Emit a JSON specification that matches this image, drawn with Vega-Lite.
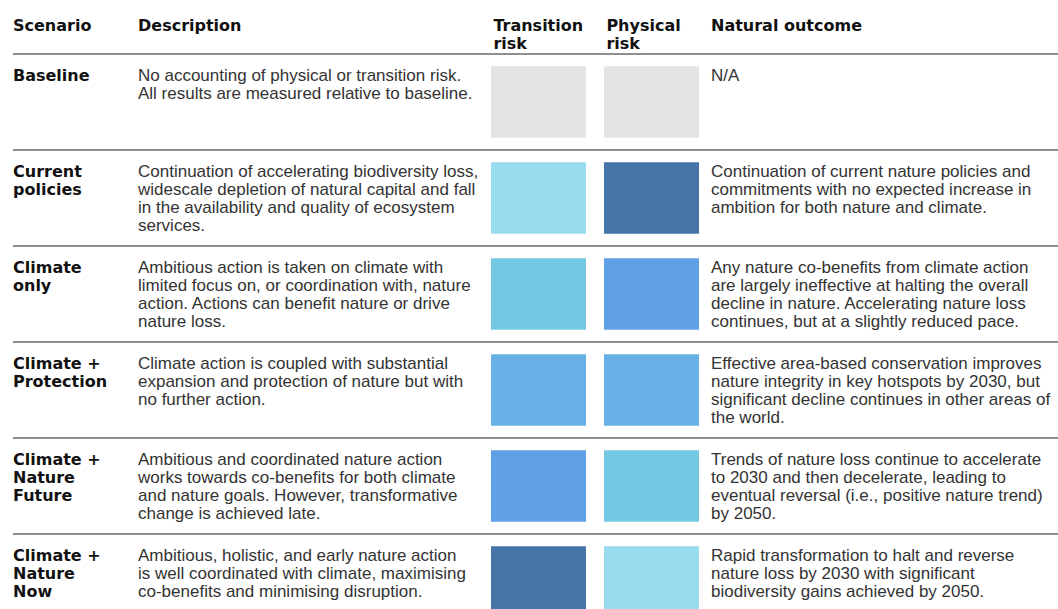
{
  "$schema": "https://vega.github.io/schema/vega-lite/v6.json",
  "background": "white",
  "padding": {"left": 12, "top": 0, "right": 0, "bottom": 0},
  "bounds": "flush",
  "spacing": 0,
  "config": {"view": {"stroke": null}, "concat": {"spacing": 0}},
  "datasets": {
    "headers": [
      {"scenario": "Header", "column": "Scenario", "text": "Scenario"},
      {"scenario": "Header", "column": "Description", "text": "Description"},
      {"scenario": "Header", "column": "Transition risk", "text": "Transition\nrisk"},
      {"scenario": "Header", "column": "Physical risk", "text": "Physical\nrisk"},
      {"scenario": "Header", "column": "Natural outcome", "text": "Natural outcome"}
    ],
    "scenarios": [
      {"scenario": "Baseline", "label": "Baseline", "description": "No accounting of physical or transition risk.\nAll results are measured relative to baseline.", "outcome": "N/A"},
      {"scenario": "Current policies", "label": "Current\npolicies", "description": "Continuation of accelerating biodiversity loss,\nwidescale depletion of natural capital and fall\nin the availability and quality of ecosystem\nservices.", "outcome": "Continuation of current nature policies and\ncommitments with no expected increase in\nambition for both nature and climate."},
      {"scenario": "Climate only", "label": "Climate\nonly", "description": "Ambitious action is taken on climate with\nlimited focus on, or coordination with, nature\naction. Actions can benefit nature or drive\nnature loss.", "outcome": "Any nature co-benefits from climate action\nare largely ineffective at halting the overall\ndecline in nature. Accelerating nature loss\ncontinues, but at a slightly reduced pace."},
      {"scenario": "Climate + Protection", "label": "Climate +\nProtection", "description": "Climate action is coupled with substantial\nexpansion and protection of nature but with\nno further action.", "outcome": "Effective area-based conservation improves\nnature integrity in key hotspots by 2030, but\nsignificant decline continues in other areas of\nthe world."},
      {"scenario": "Climate + Nature Future", "label": "Climate +\nNature\nFuture", "description": "Ambitious and coordinated nature action\nworks towards co-benefits for both climate\nand nature goals. However, transformative\nchange is achieved late.", "outcome": "Trends of nature loss continue to accelerate\nto 2030 and then decelerate, leading to\neventual reversal (i.e., positive nature trend)\nby 2050."},
      {"scenario": "Climate + Nature Now", "label": "Climate +\nNature\nNow", "description": "Ambitious, holistic, and early nature action\nis well coordinated with climate, maximising\nco-benefits and minimising disruption.", "outcome": "Rapid transformation to halt and reverse\nnature loss by 2030 with significant\nbiodiversity gains achieved by 2050."}
    ],
    "risks": [
      {"scenario": "Baseline", "column": "Transition risk", "level": "None"},
      {"scenario": "Baseline", "column": "Physical risk", "level": "None"},
      {"scenario": "Current policies", "column": "Transition risk", "level": "Very low"},
      {"scenario": "Current policies", "column": "Physical risk", "level": "Very high"},
      {"scenario": "Climate only", "column": "Transition risk", "level": "Low"},
      {"scenario": "Climate only", "column": "Physical risk", "level": "High"},
      {"scenario": "Climate + Protection", "column": "Transition risk", "level": "Medium"},
      {"scenario": "Climate + Protection", "column": "Physical risk", "level": "Medium"},
      {"scenario": "Climate + Nature Future", "column": "Transition risk", "level": "High"},
      {"scenario": "Climate + Nature Future", "column": "Physical risk", "level": "Low"},
      {"scenario": "Climate + Nature Now", "column": "Transition risk", "level": "Very high"},
      {"scenario": "Climate + Nature Now", "column": "Physical risk", "level": "Very low"}
    ]
  },
  "hconcat": [
    {
      "width": 125, "height": 609,
      "layer": [
        {"data": {"name": "scenarios"}, "mark": {"type": "rule", "stroke": "#8f8f8f", "strokeWidth": 2},
         "encoding": {"y": {"field": "scenario", "type": "nominal", "bandPosition": 0, "axis": null, "scale": {"type": "band", "domain": ["Header","Baseline","Current policies","Climate only","Climate + Protection","Climate + Nature Future","Climate + Nature Now"], "range": [-42, 630], "paddingInner": 0, "paddingOuter": 0}}}},
        {"data": {"name": "headers"}, "transform": [{"filter": "datum.column === 'Scenario'"}],
         "mark": {"type": "text", "align": "left", "baseline": "top", "font": "DejaVu Sans", "fontWeight": "bold", "fontSize": 16, "lineHeight": 17.5, "lineBreak": "\n", "color": "#111111"},
         "encoding": {
           "x": {"datum": "Scenario", "type": "nominal", "bandPosition": 0, "axis": null, "scale": {"type": "band", "paddingInner": 0, "paddingOuter": 0}},
           "y": {"field": "scenario", "type": "nominal", "bandPosition": 0.625, "axis": null, "scale": {"type": "band", "domain": ["Header","Baseline","Current policies","Climate only","Climate + Protection","Climate + Nature Future","Climate + Nature Now"], "range": [-42, 630], "paddingInner": 0, "paddingOuter": 0}},
           "text": {"field": "text"}}},
        {"data": {"name": "scenarios"},
         "mark": {"type": "text", "align": "left", "baseline": "top", "font": "DejaVu Sans", "fontWeight": "bold", "fontSize": 16, "lineHeight": 18, "lineBreak": "\n", "color": "#111111"},
         "encoding": {
           "x": {"datum": "Scenario", "type": "nominal", "bandPosition": 0, "axis": null, "scale": {"type": "band", "paddingInner": 0, "paddingOuter": 0}},
           "y": {"field": "scenario", "type": "nominal", "bandPosition": 0.15, "axis": null, "scale": {"type": "band", "domain": ["Header","Baseline","Current policies","Climate only","Climate + Protection","Climate + Nature Future","Climate + Nature Now"], "range": [-42, 630], "paddingInner": 0, "paddingOuter": 0}},
           "text": {"field": "label"}}}
      ]
    },
    {
      "width": 353, "height": 609,
      "layer": [
        {"data": {"name": "scenarios"}, "mark": {"type": "rule", "stroke": "#8f8f8f", "strokeWidth": 2},
         "encoding": {"y": {"field": "scenario", "type": "nominal", "bandPosition": 0, "axis": null, "scale": {"type": "band", "domain": ["Header","Baseline","Current policies","Climate only","Climate + Protection","Climate + Nature Future","Climate + Nature Now"], "range": [-42, 630], "paddingInner": 0, "paddingOuter": 0}}}},
        {"data": {"name": "headers"}, "transform": [{"filter": "datum.column === 'Description'"}],
         "mark": {"type": "text", "align": "left", "baseline": "top", "font": "DejaVu Sans", "fontWeight": "bold", "fontSize": 16, "lineHeight": 17.5, "lineBreak": "\n", "color": "#111111"},
         "encoding": {
           "x": {"datum": "Description", "type": "nominal", "bandPosition": 0, "axis": null, "scale": {"type": "band", "paddingInner": 0, "paddingOuter": 0}},
           "y": {"field": "scenario", "type": "nominal", "bandPosition": 0.625, "axis": null, "scale": {"type": "band", "domain": ["Header","Baseline","Current policies","Climate only","Climate + Protection","Climate + Nature Future","Climate + Nature Now"], "range": [-42, 630], "paddingInner": 0, "paddingOuter": 0}},
           "text": {"field": "text"}}},
        {"data": {"name": "scenarios"},
         "mark": {"type": "text", "align": "left", "baseline": "top", "font": "Liberation Sans", "fontSize": 17, "lineHeight": 17.8, "lineBreak": "\n", "color": "#333333"},
         "encoding": {
           "x": {"datum": "Description", "type": "nominal", "bandPosition": 0, "axis": null, "scale": {"type": "band", "paddingInner": 0, "paddingOuter": 0}},
           "y": {"field": "scenario", "type": "nominal", "bandPosition": 0.15, "axis": null, "scale": {"type": "band", "domain": ["Header","Baseline","Current policies","Climate only","Climate + Protection","Climate + Nature Future","Climate + Nature Now"], "range": [-42, 630], "paddingInner": 0, "paddingOuter": 0}},
           "text": {"field": "description"}}}
      ]
    },
    {
      "width": 220, "height": 609,
      "layer": [
        {"data": {"name": "scenarios"}, "mark": {"type": "rule", "stroke": "#8f8f8f", "strokeWidth": 2},
         "encoding": {"y": {"field": "scenario", "type": "nominal", "bandPosition": 0, "axis": null, "scale": {"type": "band", "domain": ["Header","Baseline","Current policies","Climate only","Climate + Protection","Climate + Nature Future","Climate + Nature Now"], "range": [-42, 630], "paddingInner": 0, "paddingOuter": 0}}}},
        {"data": {"name": "risks"},
         "mark": {"type": "rect", "height": {"band": 0.745}},
         "encoding": {
           "x": {"field": "column", "type": "nominal", "axis": null, "scale": {"type": "band", "domain": ["Transition risk", "Physical risk"], "range": [0, 208], "paddingInner": 0.1593, "paddingOuter": 0}},
           "y": {"field": "scenario", "type": "nominal", "axis": null, "scale": {"type": "band", "domain": ["Header","Baseline","Current policies","Climate only","Climate + Protection","Climate + Nature Future","Climate + Nature Now"], "range": [-42, 630], "paddingInner": 0, "paddingOuter": 0}},
           "color": {"field": "level", "type": "nominal", "legend": null, "scale": {"domain": ["None", "Very low", "Low", "Medium", "High", "Very high"], "range": ["#e4e4e4", "#98dcf0", "#74c8e4", "#66b0e5", "#5fa0e6", "#4576a7"]}}}},
        {"data": {"name": "headers"}, "transform": [{"filter": "datum.column === 'Transition risk' || datum.column === 'Physical risk'"}],
         "mark": {"type": "text", "align": "left", "baseline": "top", "font": "DejaVu Sans", "fontWeight": "bold", "fontSize": 16, "lineHeight": 17.5, "lineBreak": "\n", "color": "#111111"},
         "encoding": {
           "x": {"field": "column", "type": "nominal", "bandPosition": 0.025, "axis": null, "scale": {"type": "band", "domain": ["Transition risk", "Physical risk"], "range": [0, 208], "paddingInner": 0.1593, "paddingOuter": 0}},
           "y": {"field": "scenario", "type": "nominal", "bandPosition": 0.625, "axis": null, "scale": {"type": "band", "domain": ["Header","Baseline","Current policies","Climate only","Climate + Protection","Climate + Nature Future","Climate + Nature Now"], "range": [-42, 630], "paddingInner": 0, "paddingOuter": 0}},
           "text": {"field": "text"}}}
      ]
    },
    {
      "width": 348, "height": 609,
      "layer": [
        {"data": {"name": "scenarios"}, "mark": {"type": "rule", "stroke": "#8f8f8f", "strokeWidth": 2},
         "encoding": {"y": {"field": "scenario", "type": "nominal", "bandPosition": 0, "axis": null, "scale": {"type": "band", "domain": ["Header","Baseline","Current policies","Climate only","Climate + Protection","Climate + Nature Future","Climate + Nature Now"], "range": [-42, 630], "paddingInner": 0, "paddingOuter": 0}}}},
        {"data": {"name": "headers"}, "transform": [{"filter": "datum.column === 'Natural outcome'"}],
         "mark": {"type": "text", "align": "left", "baseline": "top", "font": "DejaVu Sans", "fontWeight": "bold", "fontSize": 16, "lineHeight": 17.5, "lineBreak": "\n", "color": "#111111"},
         "encoding": {
           "x": {"datum": "Natural outcome", "type": "nominal", "bandPosition": 0, "axis": null, "scale": {"type": "band", "paddingInner": 0, "paddingOuter": 0}},
           "y": {"field": "scenario", "type": "nominal", "bandPosition": 0.625, "axis": null, "scale": {"type": "band", "domain": ["Header","Baseline","Current policies","Climate only","Climate + Protection","Climate + Nature Future","Climate + Nature Now"], "range": [-42, 630], "paddingInner": 0, "paddingOuter": 0}},
           "text": {"field": "text"}}},
        {"data": {"name": "scenarios"},
         "mark": {"type": "text", "align": "left", "baseline": "top", "font": "Liberation Sans", "fontSize": 17, "lineHeight": 17.8, "lineBreak": "\n", "color": "#333333"},
         "encoding": {
           "x": {"datum": "Natural outcome", "type": "nominal", "bandPosition": 0, "axis": null, "scale": {"type": "band", "paddingInner": 0, "paddingOuter": 0}},
           "y": {"field": "scenario", "type": "nominal", "bandPosition": 0.15, "axis": null, "scale": {"type": "band", "domain": ["Header","Baseline","Current policies","Climate only","Climate + Protection","Climate + Nature Future","Climate + Nature Now"], "range": [-42, 630], "paddingInner": 0, "paddingOuter": 0}},
           "text": {"field": "outcome"}}}
      ]
    }
  ]
}
